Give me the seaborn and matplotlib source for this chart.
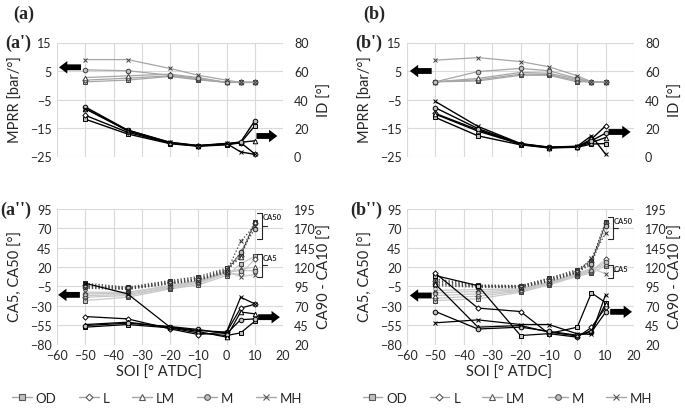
import matplotlib
matplotlib.use("Agg")
import matplotlib.pyplot as plt
from matplotlib.lines import Line2D
import seaborn as sns

sns.set_theme(style="white")
plt.rcParams['font.family'] = ['Lato', 'DejaVu Sans']

# ---------- data ----------
soi = [-50, -35, -20, -10, 0, 5, 10]
modes = ['OD', 'L', 'LM', 'M', 'MH']

# (a') MPRR [bar/deg] and ID [deg]
mprr_a = {'OD': [1.2, 1.8, 3.1, 1.9, 1.0, 1.0, 1.0],
          'L':  [1.8, 2.5, 3.3, 2.1, 1.0, 1.0, 1.0],
          'LM': [2.7, 3.3, 3.9, 2.7, 1.0, 1.0, 1.0],
          'M':  [5.4, 5.1, 3.5, 2.4, 1.0, 1.0, 1.0],
          'MH': [9.0, 9.0, 5.9, 3.5, 1.8, 1.0, 1.0]}
id_a = {'OD': [26.2, 15.8, 9.0, 7.2, 8.2, 9.6, 21.5],
        'L':  [28.9, 17.0, 9.3, 7.4, 8.6, 9.8, 1.8],
        'LM': [33.6, 18.0, 9.5, 7.5, 8.8, 10.0, 11.0],
        'M':  [34.8, 18.5, 9.8, 7.6, 9.0, 10.2, 25.0],
        'MH': [33.6, 18.5, 10.0, 7.7, 9.2, 3.2, 1.5]}

# (b') MPRR [bar/deg] and ID [deg]
mprr_b = {'OD': [1.2, 1.5, 3.5, 3.5, 1.2, 1.2, 1.2],
          'L':  [1.2, 1.9, 3.9, 3.8, 1.6, 1.2, 1.2],
          'LM': [1.2, 2.4, 4.5, 4.2, 2.1, 1.2, 1.2],
          'M':  [1.2, 4.8, 5.9, 5.1, 2.4, 1.2, 1.2],
          'MH': [8.8, 9.7, 8.3, 6.5, 3.3, 1.2, 1.2]}
id_b = {'OD': [27.4, 14.5, 8.2, 6.0, 6.5, 8.7, 9.1],
        'L':  [30.2, 18.7, 8.6, 6.2, 6.7, 12.2, 21.5],
        'LM': [29.7, 17.8, 8.7, 6.3, 6.8, 9.8, 13.3],
        'M':  [34.2, 19.6, 8.9, 6.5, 7.0, 11.0, 16.4],
        'MH': [38.6, 21.1, 9.1, 6.6, 7.2, 14.5, 1.6]}

# (a'') CA50, CA5 [deg] and CA90-CA10 [deg]
ca50_a = {'OD': [-0.9, -6.0, 2.6, 7.7, 18.5, 37.0, 78.7],
          'L':  [-3.0, -6.9, 1.3, 6.0, 16.8, 34.8, 76.5],
          'LM': [-4.7, -8.2, 0.0, 4.7, 15.5, 32.7, 77.8],
          'M':  [-6.0, -7.3, -0.9, 3.9, 14.2, 39.1, 69.2],
          'MH': [-7.3, -9.0, -1.7, 2.6, 13.3, 53.3, 73.5]}
ca5_a = {'OD': [-23.2, -18.9, -8.2, -3.0, 9.0, 24.0, 34.0],
         'L':  [-18.9, -16.8, -6.9, -0.9, 11.2, 11.2, 30.0],
         'LM': [-16.8, -15.5, -6.0, 0.4, 12.5, 17.6, 19.8],
         'M':  [-14.6, -13.8, -4.7, 1.3, 13.3, 15.5, 15.4],
         'MH': [-12.5, -12.5, -3.9, 2.6, 14.2, 7.7, 10.3]}
dur_a = {'OD': [42.4, 45.8, 41.5, 35.0, 31.6, 35.0, 50.0],
         'L':  [56.1, 53.1, 40.2, 32.9, 36.0, 67.0, 72.0],
         'LM': [45.8, 48.8, 42.4, 36.8, 29.5, 62.0, 59.6],
         'M':  [44.5, 47.5, 43.2, 39.4, 33.8, 52.0, 53.1],
         'MH': [99.1, 85.4, 42.4, 38.1, 36.0, 81.1, 72.5]}

# (b'') CA50, CA5 [deg] and CA90-CA10 [deg]
ca50_b = {'OD': [4.7, -3.0, -3.9, 5.6, 16.8, 28.4, 78.7],
          'L':  [2.6, -3.9, -4.7, 4.7, 15.5, 27.1, 76.9],
          'LM': [0.4, -4.7, -5.2, 3.4, 14.2, 25.4, 75.6],
          'M':  [-1.7, -5.2, -6.0, 2.6, 13.3, 23.6, 72.6],
          'MH': [-3.9, -6.0, -6.9, 1.3, 12.5, 31.4, 63.6]}
ca5_b = {'OD': [-23.2, -21.0, -12.5, -3.0, 8.2, 12.0, 21.8],
         'L':  [-20.2, -17.6, -11.2, -1.7, 9.0, 14.2, 30.5],
         'LM': [-16.8, -14.6, -10.3, -0.9, 9.9, 15.5, 24.0],
         'M':  [-13.3, -11.6, -9.5, 0.0, 10.7, 16.8, 26.2],
         'MH': [-10.3, -9.0, -8.2, 0.9, 11.6, 18.5, 11.2]}
dur_b = {'OD': [109.0, 96.0, 31.6, 34.0, 42.4, 86.7, 74.0],
         'L':  [112.0, 67.0, 62.6, 34.0, 29.5, 42.0, 68.0],
         'LM': [98.0, 42.4, 44.5, 36.0, 31.0, 38.0, 72.5],
         'M':  [62.6, 40.0, 42.4, 37.0, 32.0, 36.0, 61.7],
         'MH': [48.0, 51.8, 45.8, 45.8, 33.8, 33.0, 84.5]}

# ---------- styles ----------
marker_map = {'OD': 's', 'L': 'D', 'LM': '^', 'M': 'o', 'MH': 'x'}
mfc_map = {'OD': '#bfbfbf', 'L': 'white', 'LM': 'white', 'M': '#bfbfbf', 'MH': 'none'}
msize = {'OD': 3.2, 'L': 2.7, 'LM': 3.3, 'M': 3.3, 'MH': 3.5}
grid_c = '#d9d9d9'


def draw(ax, values, color, ls, lw, mec):
    for m in modes:
        sns.lineplot(x=soi, y=values[m], ax=ax, color=color, linestyle=ls, lw=lw,
                     marker=marker_map[m], markersize=msize[m],
                     markerfacecolor=mfc_map[m], markeredgecolor=mec,
                     markeredgewidth=0.7, estimator=None, sort=False)


def style(ax, ax2, ylim, yticks, ylim2, yticks2, show_x):
    ax.set_xlim(-60, 20)
    ax.set_xticks(range(-60, 21, 10))
    ax.set_ylim(*ylim)
    ax.set_yticks(yticks)
    ax2.set_ylim(*ylim2)
    ax2.set_yticks(yticks2)
    ax.grid(True, color=grid_c, lw=0.8)
    ax.set_axisbelow(True)
    for a in (ax, ax2):
        for s in a.spines.values():
            s.set_visible(False)
        a.tick_params(length=0, labelsize=9, colors='#262626')
    ax.tick_params(axis='y', pad=4)
    ax2.tick_params(axis='y', pad=8)
    ax.tick_params(axis='x', pad=3, labelbottom=show_x)
    ax.set_xlabel('')
    ax.set_ylabel('')
    ax2.set_ylabel('')


def arrow(ax, tail, head):
    ax.annotate('', xy=head, xytext=tail, annotation_clip=False,
                arrowprops=dict(arrowstyle='simple,head_length=0.5,head_width=0.75,tail_width=0.35',
                                color='black', lw=0, shrinkA=0, shrinkB=0))


def bracket(ax, x0, x1, ytop, ybot, label):
    kw = dict(color='#262626', lw=0.8, clip_on=False)
    ax.plot([x0, x1, x1, x0], [ytop, ytop, ybot, ybot], **kw)
    ymid = (ytop + ybot) / 2
    ax.plot([x1, x1 + 1.8], [ymid, ymid], **kw)
    ax.text(x1 + 0.3, ytop - 4, label, fontsize=5.5, fontweight='bold',
            va='center', ha='left', color='#262626')


W, H = 685, 414
fig = plt.figure(figsize=(W / 100, H / 100), dpi=100)


def axes_at(x0, x1, ytop, ybot):
    return fig.add_axes([x0 / W, 1 - ybot / H, (x1 - x0) / W, (ybot - ytop) / H])


panels = [(57, 283, mprr_a, id_a, ca50_a, ca5_a, dur_a, 'a'),
          (407, 634, mprr_b, id_b, ca50_b, ca5_b, dur_b, 'b')]

for x0, x1, mprr, idd, ca50, ca5, dur, tag in panels:
    # top panel
    ax = axes_at(x0, x1, 43.5, 157.5)
    ax2 = ax.twinx()
    draw(ax, mprr, '#a6a6a6', '-', 0.9, '#404040')
    draw(ax2, idd, 'black', '-', 1.0, 'black')
    style(ax, ax2, (-25, 15), [-25, -15, -5, 5, 15], (0, 80), [0, 20, 40, 60, 80], False)
    # bottom panel
    bx = axes_at(x0, x1, 210, 345.5)
    bx2 = bx.twinx()
    draw(bx, ca5, '#c8c8c8', '-', 0.9, '#404040')
    draw(bx, ca50, '#404040', ':', 0.9, '#262626')
    draw(bx2, dur, 'black', '-', 0.9, 'black')
    style(bx, bx2, (-80, 95), list(range(-80, 96, 25)), (20, 195), list(range(20, 196, 25)), True)

    if tag == 'a':
        arrow(ax, (-51.5, 6.3), (-59.3, 6.3))
        arrow(ax, (10.6, -17.8), (18.0, -17.8))
        arrow(bx, (-51.9, -15.9), (-59.6, -15.9))
        arrow(bx, (11.2, -44.7), (18.9, -44.7))
        bracket(bx, 10.9, 12.6, 89.8, 56.3, 'CA50')
        bracket(bx, 10.9, 12.6, 37.0, 7.3, 'CA5')
    else:
        arrow(ax, (-51.3, 5.0), (-59.0, 5.0))
        arrow(ax, (11.0, -16.4), (18.8, -16.4))
        arrow(bx, (-51.3, -16.7), (-59.0, -16.7))
        arrow(bx, (11.6, -37.8), (19.3, -37.8))
        bracket(bx, 10.9, 12.6, 84.7, 56.3, 'CA50')
        bracket(bx, 10.9, 12.6, 22.8, 6.0, 'CA5')

    # axis titles
    lab = dict(fontsize=10.5, color='#262626', rotation=90, va='center', ha='center')
    fig.text((x0 - 41) / W, 1 - 100 / H, 'MPRR [bar/°]', **lab)
    fig.text((x1 + 42) / W, 1 - 100 / H, 'ID [°]', **lab)
    fig.text((x0 - 41) / W, 1 - 277 / H, 'CA5, CA50 [°]', **lab)
    fig.text((x1 + 42) / W, 1 - 277 / H, 'CA90 - CA10 [°]', **lab)
    fig.text((x0 + x1) / 2 / W - 11 / W, 1 - 373 / H, 'SOI [° ATDC]', fontsize=10.5,
             color='#262626', ha='center', va='center')

    # panel tags
    serif = dict(family='Liberation Serif', fontweight='bold', fontsize=13, va='center')
    fig.text((x0 - 44) / W, 1 - 14 / H, f'({tag})', **serif)
    fig.text((x0 - 52) / W, 1 - 43 / H, f"({tag}')", **serif)
    fig.text((x0 - 57) / W, 1 - 210 / H, f"({tag}'')", **serif)

    # legend
    handles = [Line2D([], [], color='#a6a6a6', lw=1.0, marker=marker_map[m],
                      markersize=msize[m] + 0.8, markerfacecolor=mfc_map[m],
                      markeredgecolor='#595959', markeredgewidth=0.8) for m in modes]
    fig.legend(handles, modes, loc='center', bbox_to_anchor=((x0 + x1) / 2 / W - 13 / W, 1 - 399 / H),
               ncol=5, frameon=False, fontsize=9.5, handlelength=1.5, handletextpad=0.3,
               columnspacing=1.7, labelcolor='#262626')

fig.savefig('out.png', dpi=100)
